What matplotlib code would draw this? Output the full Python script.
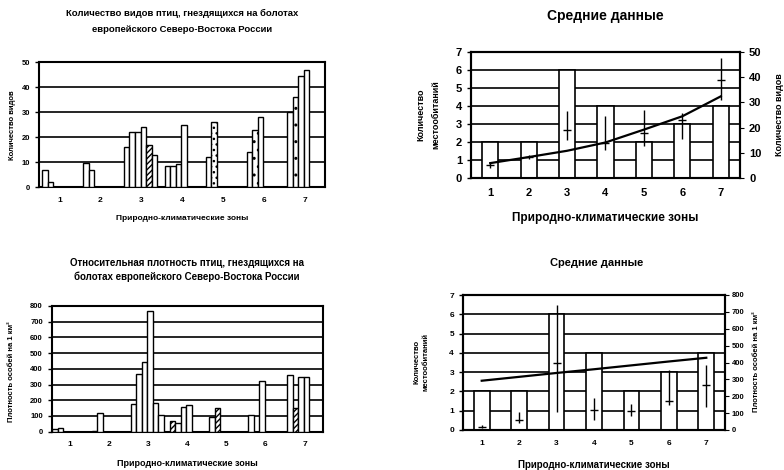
import numpy as np
import matplotlib.pyplot as plt

plt.rcParams['font.family'] = ['Liberation Sans', 'DejaVu Sans']
plt.rcParams['font.weight'] = 'bold'

zones = [1, 2, 3, 4, 5, 6, 7]
zone_labels = ['1', '2', '3', '4', '5', '6', '7']

# number of bird species in each habitat of the zone
species_by_habitat = [
    [7.0, 2.1],
    [9.5, 7.0],
    [16, 22, 22, 24, 17, 13],
    [8.5, 8.5, 9.2, 25],
    [12, 26],
    [14, 23, 28],
    [30, 36, 44.5, 47],
]

# bird density (per 1 km2) in each habitat of the zone
density_by_habitat = [
    [15, 25],
    [5, 118],
    [175, 367, 442, 765, 181, 107],
    [68, 55, 155, 170],
    [95, 150],
    [105, 0, 325],
    [360, 150, 345, 345],
]

habitat_count = [2, 2, 6, 4, 2, 3, 4]

species_trend = [5.9, 8.3, 10.8, 14.1, 19.2, 24.5, 32.4]
species_mean = [5.2, 8.3, 19.2, 14.0, 18.0, 23.0, 39.0]
species_low = [3.9, 7.5, 15.2, 11.2, 12.5, 15.5, 31.1]
species_high = [6.5, 9.0, 26.5, 24.5, 27.0, 25.8, 47.8]

density_trend = [292, 315, 338, 360, 383, 406, 428]
density_mean = [20, 60, 400, 118, 115, 172, 267]
density_low = [10, 40, 108, 59, 85, 148, 138]
density_high = [30, 108, 741, 188, 154, 356, 385]

W, H = 784, 470
fig = plt.figure(figsize=(W / 100, H / 100), dpi=100)


def px_axes(left, top, right, bottom):
    return fig.add_axes([left / W, 1 - bottom / H, (right - left) / W, (bottom - top) / H])


def px_text(x, y, s, **kw):
    fig.text(x / W, 1 - y / H, s, ha='center', va='center', **kw)


def style_axes(ax, size):
    for sp in ax.spines.values():
        sp.set_linewidth(1.5)
    ax.yaxis.grid(True, color='black', linewidth=1.2)
    ax.set_axisbelow(True)
    ax.tick_params(axis='both', labelsize=size, length=3, width=1.0)
    ax.tick_params(axis='x', length=0, pad=7)


def habitat_bars(ax, values, hatches, width=0.135, offset=0.42):
    for z, vals in zip(zones, values):
        x = z - offset + width * (np.arange(len(vals)) + 0.5)
        bars = ax.bar(x, vals, width=width, color='white', edgecolor='black',
                      linewidth=1.0, zorder=3)
        for i, b in enumerate(bars):
            if (z, i) in hatches:
                b.set_hatch(hatches[(z, i)])


def mean_bars(ax, counts, trend, mean, low, high, right_max, right_step):
    ax.bar(zones, counts, width=0.42, color='white', edgecolor='black',
           linewidth=1.2, zorder=3)
    ax.set_ylim(0, 7)
    ax.set_yticks(range(8))
    ax.set_xlim(0.5, 7.5)
    ax.set_xticks(zones)
    ax.set_xticklabels(zone_labels)
    ax2 = ax.twinx()
    ax2.set_ylim(0, right_max)
    ax2.set_yticks(np.arange(0, right_max + 1, right_step))
    ax2.plot(zones, trend, color='black', linewidth=1.6)
    mean = np.array(mean)
    yerr = [mean - np.array(low), np.array(high) - mean]
    ax2.errorbar(zones, mean, yerr=yerr, fmt='_', color='black', ms=6,
                 elinewidth=1.0, capsize=0)
    for sp in ax2.spines.values():
        sp.set_linewidth(1.5)
    return ax2


# species per habitat
ax = px_axes(39, 62, 325, 187)
style_axes(ax, 5.5)
habitat_bars(ax, species_by_habitat, {(3, 4): '//////', (5, 1): '...', (6, 1): '..', (7, 1): '..'})
ax.set_ylim(0, 50)
ax.set_yticks(range(0, 51, 10))
ax.set_xlim(0.5, 7.5)
ax.set_xticks(zones)
ax.set_xticklabels(zone_labels, fontsize=6)
px_text(182, 13, 'Количество видов птиц, гнездящихся на болотах', fontsize=6.8)
px_text(182, 29, 'европейского Северо-Востока России', fontsize=6.8)
px_text(13, 125, 'Количество видов', fontsize=5.5, rotation=90)
px_text(182, 219, 'Природно-климатические зоны', fontsize=6)

# density per habitat
ax = px_axes(52, 306, 323, 431.7)
style_axes(ax, 5.5)
habitat_bars(ax, density_by_habitat, {(4, 0): '//////', (5, 1): '//////', (7, 1): '//////'},
             width=0.14, offset=0.44)
ax.set_ylim(0, 800)
ax.set_yticks(range(0, 801, 100))
ax.set_xlim(0.55, 7.47)
ax.set_xticks(zones)
ax.set_xticklabels(zone_labels, fontsize=6)
px_text(187, 263, 'Относительная плотность птиц, гнездящихся на', fontsize=7)
px_text(187, 277, 'болотах европейского Северо-Востока России', fontsize=7)
px_text(12, 372, 'Плотность особей на 1 км²', fontsize=5.5, rotation=90)
px_text(187, 464, 'Природно-климатические зоны', fontsize=6.5)

# averages: habitats and species
ax = px_axes(471, 52, 740, 178)
style_axes(ax, 8)
ax2 = mean_bars(ax, habitat_count, species_trend, species_mean, species_low, species_high, 50, 10)
ax2.tick_params(labelsize=8, length=3)
px_text(605, 16, 'Средние данные', fontsize=10)
px_text(421, 115, 'Количество', fontsize=6.5, rotation=90)
px_text(436, 115, 'местообитаний', fontsize=6.5, rotation=90)
px_text(779, 115, 'Количество видов', fontsize=6.5, rotation=90)
px_text(605, 218, 'Природно-климатические зоны', fontsize=8.5)

# averages: habitats and density
ax = px_axes(463, 295, 725, 430)
style_axes(ax, 6)
ax2 = mean_bars(ax, habitat_count, density_trend, density_mean, density_low, density_high, 800, 100)
ax2.tick_params(labelsize=5.5, length=3, pad=2)
px_text(597, 263, 'Средние данные', fontsize=8)
px_text(417, 362, 'Количество', fontsize=5.5, rotation=90)
px_text(426, 362, 'местообитаний', fontsize=5.5, rotation=90)
px_text(757, 362, 'Плотность особей на 1 км²', fontsize=5.5, rotation=90)
px_text(594, 465, 'Природно-климатические зоны', fontsize=7)

fig.savefig('out.png', dpi=100)
